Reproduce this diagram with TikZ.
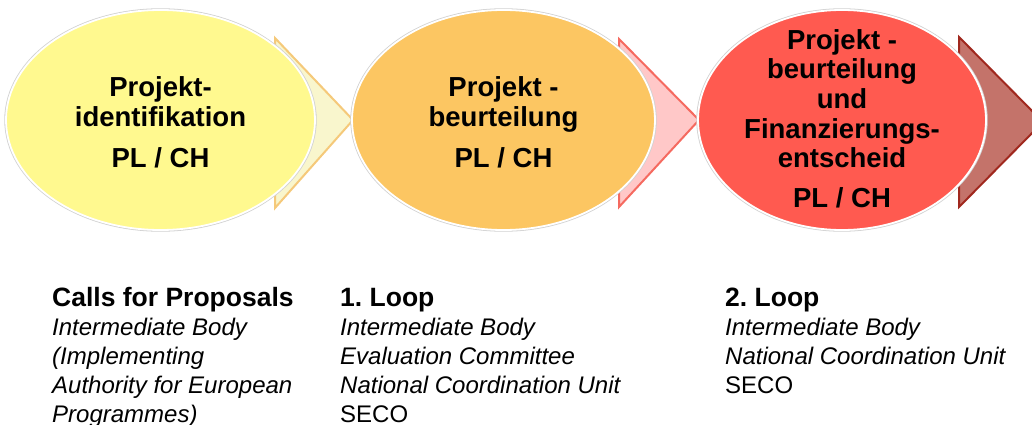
\documentclass[tikz,border=0pt]{standalone}
\usepackage{fontspec}
\setmainfont{Liberation Sans}
\usetikzlibrary{shapes.geometric}
\frenchspacing

\definecolor{yellowFill}{HTML}{FFF98F}
\definecolor{orangeFill}{HTML}{FCC662}
\definecolor{redFill}{HTML}{FF5A50}
\definecolor{creamFill}{HTML}{F9F6CD}
\definecolor{creamLine}{HTML}{F5C97A}
\definecolor{pinkFill}{HTML}{FFC8C8}
\definecolor{pinkLine}{HTML}{F56A60}
\definecolor{brickFill}{HTML}{C4736A}
\definecolor{brickLine}{HTML}{A0281E}

\tikzset{
  phase/.style={ellipse, inner sep=0pt, outer sep=0pt, draw=white, line width=1.8pt,
    preaction={draw=black!18, line width=3.4pt}},
  chevron/.style={line width=2pt, line join=miter},
  phasetext/.style={anchor=base, inner sep=0pt, font=\fontsize{27.5}{29}\selectfont\bfseries},
  headtext/.style={anchor=base west, inner sep=0pt, font=\fontsize{26.5}{29}\selectfont\bfseries},
  roletext/.style={anchor=base west, inner sep=0pt, font=\fontsize{24}{29}\selectfont\itshape},
  plaintext/.style={anchor=base west, inner sep=0pt, font=\fontsize{24}{29}\selectfont},
}

\begin{document}
\begin{tikzpicture}[x=1pt, y=-1pt]
  \useasboundingbox (0,0) rectangle (1032,425);
  \clip (0,0) rectangle (1032,425);

  % arrow-heads between the phases (drawn first, the ellipses overlap them)
  \coordinate (a1t) at (275,38);  \coordinate (a1p) at (353,120); \coordinate (a1b) at (275,208);
  \coordinate (a2t) at (619,39);  \coordinate (a2p) at (699,120); \coordinate (a2b) at (619,207);
  \coordinate (a3t) at (959,37);  \coordinate (a3p) at (1043,122); \coordinate (a3b) at (959,207);
  \draw[chevron, fill=creamFill, draw=creamLine] (a1t) -- (a1p) -- (a1b) -- cycle;
  \draw[chevron, fill=pinkFill,  draw=pinkLine]  (a2t) -- (a2p) -- (a2b) -- cycle;
  \draw[chevron, fill=brickFill, draw=brickLine] (a3t) -- (a3p) -- (a3b) -- cycle;

  % phases
  \node[phase, fill=yellowFill, minimum width=309pt, minimum height=220pt] (e1) at (160.5,120) {};
  \node[phase, fill=orangeFill, minimum width=303pt, minimum height=220pt] (e2) at (503.5,120) {};
  \node[phase, fill=redFill,    minimum width=288pt, minimum height=220pt] (e3) at (842,120) {};

  % phase labels
  \node[phasetext] (e1l1) at (160.5,97)  {Projekt-};
  \node[phasetext] (e1l2) at (160.5,126) {identifikation};
  \node[phasetext] (e1l3) at (160.5,167) {PL / CH};

  \node[phasetext] (e2l1) at (503.5,97)  {Projekt -};
  \node[phasetext] (e2l2) at (503.5,126) {beurteilung};
  \node[phasetext] (e2l3) at (503.5,167) {PL / CH};

  \node[phasetext] (e3l1) at (842,50)  {Projekt -};
  \node[phasetext] (e3l2) at (842,79)  {beurteilung};
  \node[phasetext] (e3l3) at (842,109) {und};
  \node[phasetext] (e3l4) at (842,138) {Finanzierungs-};
  \node[phasetext] (e3l5) at (842,167) {entscheid};
  \node[phasetext] (e3l6) at (842,207) {PL / CH};

  % actors per phase
  \node[headtext] (c1h) at (52,306) {Calls for Proposals};
  \node[roletext] (c1a) at (52,335) {Intermediate Body};
  \node[roletext] (c1b) at (52,364) {(Implementing};
  \node[roletext] (c1c) at (52,393) {Authority for European};
  \node[roletext] (c1d) at (52,422) {Programmes)};

  \node[headtext]  (c2h) at (340,306) {1. Loop};
  \node[roletext]  (c2a) at (340,335) {Intermediate Body};
  \node[roletext]  (c2b) at (340,364) {Evaluation Committee};
  \node[roletext]  (c2c) at (340,393) {National Coordination Unit};
  \node[plaintext] (c2d) at (340,422) {SECO};

  \node[headtext]  (c3h) at (725,306) {2. Loop};
  \node[roletext]  (c3a) at (725,335) {Intermediate Body};
  \node[roletext]  (c3b) at (725,364) {National Coordination Unit};
  \node[plaintext] (c3c) at (725,393) {SECO};
\end{tikzpicture}
\end{document}
